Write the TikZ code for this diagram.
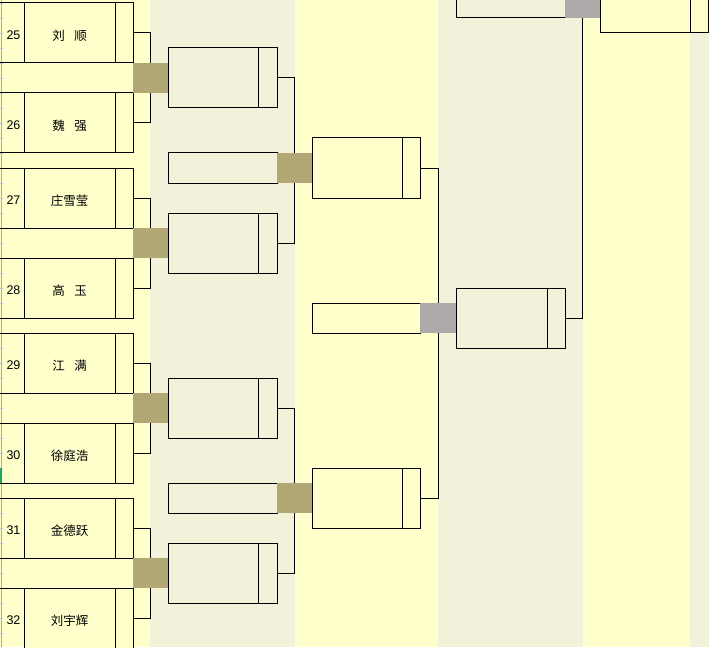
\documentclass[tikz,border=0pt]{standalone}
\usepackage{fontspec}
\setmainfont{Liberation Sans}
\newfontfamily\cjk{Noto Sans CJK SC}
\usetikzlibrary{positioning}

\definecolor{sheetyellow}{HTML}{FFFFCC}
\definecolor{sheetbeige}{HTML}{F2F1DA}
\definecolor{wintan}{HTML}{B2A876}
\definecolor{wingray}{HTML}{AEAAAA}
\definecolor{gridblue}{HTML}{A3ABC4}
\definecolor{sheetgreen}{HTML}{21A366}

\newcommand{\gap}{\hspace{9.5pt}}
\newcommand{\celltext}[1]{\raisebox{-2.5pt}[\height][\depth]{#1}}

\tikzset{
  cell/.style={draw, line width=1pt, minimum height=60pt, inner sep=0pt, outer sep=0pt},
  namecell/.style={cell, fill=sheetyellow, minimum width=91pt, font=\cjk\fontsize{12.5}{14}\selectfont},
  boxcell/.style={cell, minimum width=90pt},
  tailcell/.style={cell, minimum width=18pt},
  numcell/.style={minimum width=24pt, minimum height=60pt, inner sep=0pt, outer sep=0pt,
    font=\fontsize{12.5}{14}\selectfont},
  bandcell/.style={draw, line width=1pt, minimum width=109pt, minimum height=30pt,
    inner sep=0pt, outer sep=0pt},
  winblock/.style={fill=wintan, minimum width=35pt, minimum height=30pt, inner sep=0pt, outer sep=0pt},
  link/.style={line width=1pt},
}

\begin{document}
\begin{tikzpicture}[x=1pt, y=-1pt]
  \useasboundingbox (0,0) rectangle (711,647);
  \clip (0,0) rectangle (711,647);

  % ---- sheet columns ----
  \fill[sheetyellow] (0,0) rectangle (150,647);
  \fill[sheetbeige] (150,0) rectangle (295,647);
  \fill[sheetyellow] (295,0) rectangle (438,647);
  \fill[sheetbeige] (438,0) rectangle (583,647);
  \fill[sheetyellow] (583,0) rectangle (690,647);
  \fill[sheetbeige] (690,0) rectangle (709,647);

  % ---- left sheet edge ----
  \draw[gridblue, line width=1pt] (1,0) -- (1,647);
  \foreach \r in {0,...,43}
    \draw[gridblue!70, line width=0.6pt] (0,{3+15*\r}) -- (2.5,{3+15*\r});
  \fill[sheetgreen] (0,468) rectangle (2,483);

  % ---- Round 1: players 25--32 ----
  \foreach \k/\na/\nb/\pa/\pb in {0/25/26/{刘\gap 顺}/{魏\gap 强},
                                  1/27/28/{庄雪莹}/{高\gap 玉},
                                  2/29/30/{江\gap 满}/{徐庭浩},
                                  3/31/32/{金德跃}/{刘宇辉}} {
    \pgfmathsetmacro{\ya}{33+165*\k}
    \pgfmathsetmacro{\yb}{123+165*\k}
    \pgfmathsetmacro{\yw}{78+165*\k}
    \node[namecell] (pa\k) at (69.5,\ya) {\celltext{\pa}};
    \node[tailcell, fill=sheetyellow, right=0pt of pa\k] (ta\k) {};
    \node[numcell, left=0pt of pa\k] (na\k) {\celltext{\hspace{3pt}\na}};
    \draw[link] (na\k.north west) -- (na\k.north east) (na\k.south west) -- (na\k.south east);
    \node[namecell] (pb\k) at (69.5,\yb) {\celltext{\pb}};
    \node[tailcell, fill=sheetyellow, right=0pt of pb\k] (tb\k) {};
    \node[numcell, left=0pt of pb\k] (nb\k) {\celltext{\hspace{3pt}\nb}};
    \draw[link] (nb\k.north west) -- (nb\k.north east) (nb\k.south west) -- (nb\k.south east);
    \node[winblock] (w\k) at (150.5,\yw) {};
    \draw[link] (ta\k.east) -| (w\k.north);
    \draw[link] (tb\k.east) -| (w\k.south);
  }

  % ---- Rounds 2 and 3 ----
  \foreach \g in {0,1} {
    \pgfmathtruncatemacro{\ka}{2*\g}
    \pgfmathtruncatemacro{\kb}{2*\g+1}
    \pgfmathsetmacro{\yv}{168+330*\g}
    \node[boxcell, fill=sheetbeige, right=0pt of w\ka] (qa\g) {};
    \node[tailcell, fill=sheetbeige, minimum width=19pt, right=0pt of qa\g] (qta\g) {};
    \node[boxcell, fill=sheetbeige, right=0pt of w\kb] (qb\g) {};
    \node[tailcell, fill=sheetbeige, minimum width=19pt, right=0pt of qb\g] (qtb\g) {};
    \node[bandcell, fill=sheetbeige] (qband\g) at (222.5,\yv) {};
    \node[winblock, right=0pt of qband\g] (v\g) {};
    \draw[link] (qta\g.east) -| (v\g.north);
    \draw[link] (qtb\g.east) -| (v\g.south);
    \node[boxcell, fill=sheetyellow, right=0pt of v\g] (s\g) {};
    \node[tailcell, fill=sheetyellow, right=0pt of s\g] (st\g) {};
  }

  % ---- Round 4 ----
  \node[bandcell, minimum width=108pt, fill=sheetyellow] (sband) at (366,318) {};
  \node[winblock, fill=wingray, minimum width=36pt, right=0pt of sband] (g) {};
  \draw[link] (st0.east) -| (g.north);
  \draw[link] (st1.east) -| (g.south);
  \node[boxcell, minimum width=91pt, fill=sheetbeige, right=0pt of g] (f) {};
  \node[tailcell, fill=sheetbeige, right=0pt of f] (ft) {};

  % ---- upper half, cut off by the sheet top ----
  \node[bandcell, fill=sheetbeige] (fband) at (510.5,3) {};
  \node[winblock, fill=wingray, right=0pt of fband] (gt) {};
  \node[boxcell, fill=sheetyellow, right=0pt of gt] (c) {};
  \node[tailcell, fill=sheetyellow, right=0pt of c] (ct) {};
  \draw[link] (ft.east) -| (gt.south);
\end{tikzpicture}
\end{document}
